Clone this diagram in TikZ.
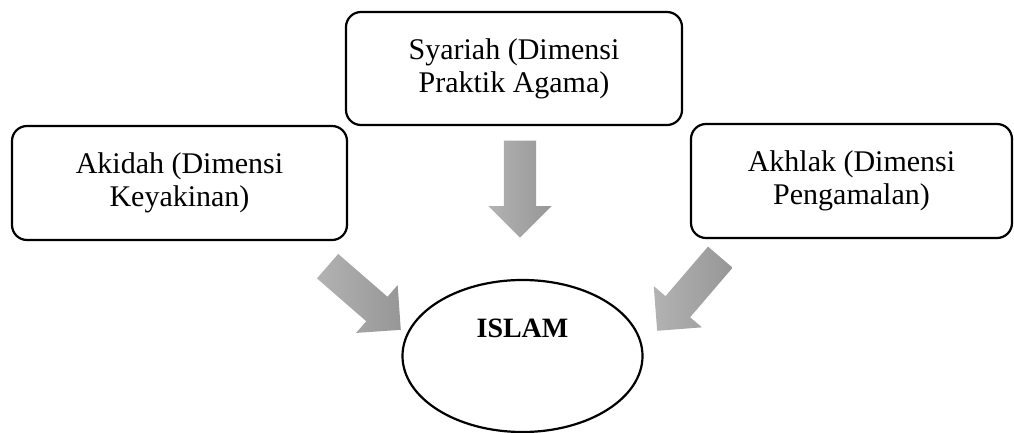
\documentclass[tikz,border=0pt]{standalone}
\usepackage{fontspec}
\setmainfont{Liberation Serif}
\usetikzlibrary{shapes.geometric,shapes.arrows}
\begin{document}
\begin{tikzpicture}[x=1pt,y=-1pt,
  dimbox/.style={draw=black,line width=2.2pt,rounded corners=15pt,inner sep=0pt,
    align=center,font=\fontsize{30}{33}\selectfont},
  bigarrow/.style={single arrow,draw=none,inner xsep=0pt,inner ysep=16pt,anchor=tip,
    minimum height=97pt,single arrow head extend=15.5pt,single arrow tip angle=90,
    left color=gray!60,right color=gray!82},
  core/.style={ellipse,draw=black,line width=2.2pt,minimum width=240pt,minimum height=152pt,inner sep=0pt}]
\useasboundingbox (0,0) rectangle (1014,433);
\node[dimbox,minimum width=335pt,minimum height=114pt] (akidah) at (179.5,183) {Akidah (Dimensi\\Keyakinan)};
\node[dimbox,minimum width=336pt,minimum height=113pt] (syariah) at (514,68.5) {Syariah (Dimensi\\Praktik Agama)};
\node[dimbox,minimum width=321pt,minimum height=114pt] (akhlak) at (851.5,181) {Akhlak (Dimensi\\Pengamalan)};
\node[core] (islam) at (522.5,356) {};
\node[font=\fontsize{28}{32}\selectfont\bfseries,inner sep=0pt] (islamtext) at ([yshift=28pt]islam.center) {ISLAM};
\node[bigarrow,rotate=-90] (a2) at (520,238) {};
\node[bigarrow,rotate=-41] (a1) at (401,330) {};
\node[bigarrow,rotate=-130.6] (a3) at (657,331) {};
\end{tikzpicture}
\end{document}
